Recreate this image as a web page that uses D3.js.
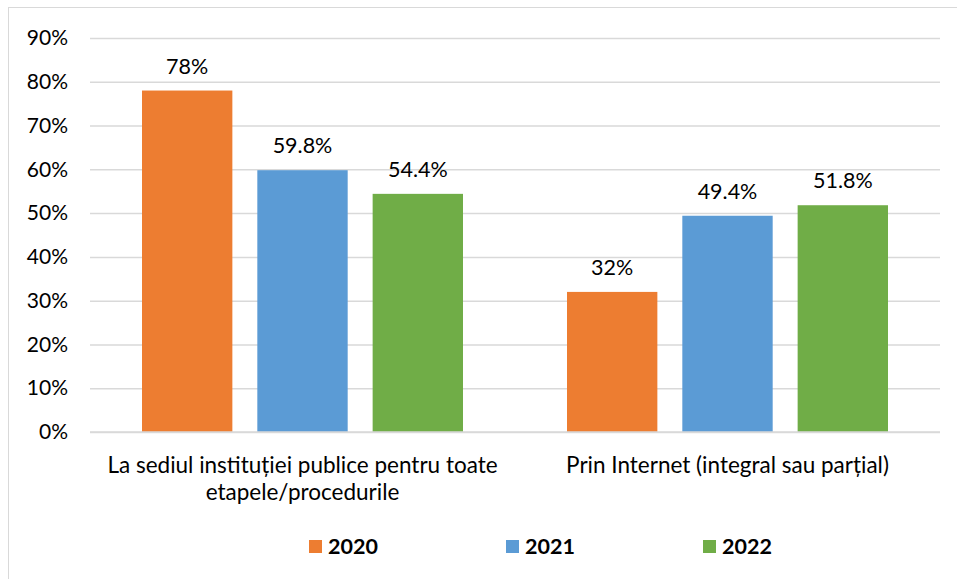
<!DOCTYPE html>
<html><head><meta charset="utf-8">
<script src="https://cdn.jsdelivr.net/npm/d3@7"></script>
<style>body{margin:0;background:#fff}svg{display:block}text{font-family:Lato,"Open Sans",sans-serif}</style>
</head><body>
<svg id="c" width="957" height="579"></svg>
<script>
const categories = ["La sediul instituției publice pentru toate etapele/procedurile", "Prin Internet (integral sau parțial)"];
const categoryLines = [["La sediul instituției publice pentru toate", "etapele/procedurile"], ["Prin Internet (integral sau parțial)"]];
const years = ["2020", "2021", "2022"];
const values2020 = [78, 32];
const values2021 = [59.8, 49.4];
const values2022 = [54.4, 51.8];
const valueLabels = [["78%", "32%"], ["59.8%", "49.4%"], ["54.4%", "51.8%"]];
const yTicks = [0, 10, 20, 30, 40, 50, 60, 70, 80, 90];
const colors = ["#ED7D31", "#5B9BD5", "#70AD47"];

(function () {
const series = [values2020, values2021, values2022];
const svg = d3.select("#c");
svg.append("rect").attr("x", 8.5).attr("y", 7.5).attr("width", 1000).attr("height", 1000)
  .attr("fill", "none").attr("stroke", "#d9d9d9").attr("stroke-width", 1);

const pl = 90, pr = 940, pt = 38, pb = 432;
const y = d3.scaleLinear().domain([0, 90]).range([pb, pt]);
const x0 = d3.scaleBand().domain(categories).range([pl, pr]).paddingInner(0).paddingOuter(0);
const x1 = d3.scaleBand().domain(years).range([52, 425 - 52]).paddingInner(25 / 115.5).paddingOuter(0);

const yAxis = d3.axisLeft(y).tickValues(yTicks).tickSize(-(pr - pl)).tickFormat(d => d + "%").tickPadding(22);
const ga = svg.append("g").attr("transform", `translate(${pl},0)`).call(yAxis);
ga.select(".domain").remove();
ga.selectAll(".tick line").attr("stroke", "#d9d9d9").attr("stroke-width", 1.5);
ga.selectAll(".tick text").attr("fill", "#000").attr("font-size", 21).attr("font-family", "Lato, sans-serif");

categories.forEach((c, ci) => {
  const g = svg.append("g").attr("transform", `translate(${x0(c)},0)`);
  years.forEach((yr, si) => {
    const v = series[si][ci];
    g.append("rect").attr("x", x1(yr)).attr("y", y(v)).attr("width", x1.bandwidth())
      .attr("height", y(0) - y(v)).attr("fill", colors[si]);
    g.append("text").attr("x", x1(yr) + x1.bandwidth() / 2).attr("y", y(v) - 17)
      .attr("text-anchor", "middle").attr("font-size", 21.5).attr("fill", "#000").text(valueLabels[si][ci]);
  });
  categoryLines[ci].forEach((line, li) => {
    svg.append("text").attr("x", x0(c) + x0.bandwidth() / 2).attr("y", 473 + li * 27)
      .attr("text-anchor", "middle").attr("font-size", 22.5).attr("fill", "#000").text(line);
  });
});

svg.append("line").attr("x1", pl).attr("x2", pr).attr("y1", y(0)).attr("y2", y(0))
  .attr("stroke", "#d9d9d9").attr("stroke-width", 1.5);

const legendX = [309, 506, 703];
years.forEach((yr, i) => {
  svg.append("rect").attr("x", legendX[i]).attr("y", 540).attr("width", 13).attr("height", 13).attr("fill", colors[i]);
  svg.append("text").attr("x", legendX[i] + 19).attr("y", 554).attr("font-size", 21.5).attr("font-weight", "bold")
    .attr("fill", "#000").text(yr);
});
})();
</script>
</body></html>
